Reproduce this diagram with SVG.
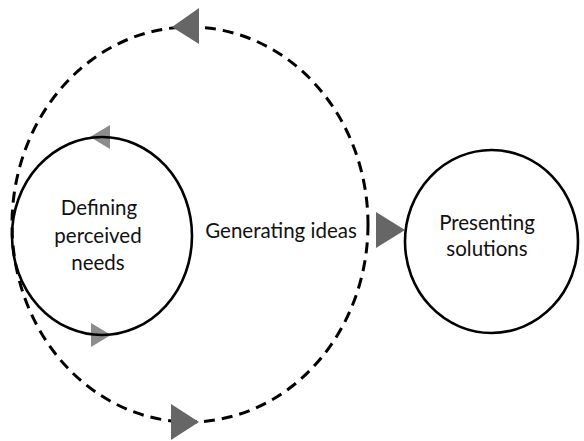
<svg xmlns="http://www.w3.org/2000/svg" width="584" height="441" viewBox="0 0 584 441">
<style>
.node{fill:none;stroke:#000;stroke-width:2.6}
.cycle{fill:none;stroke:#000;stroke-width:3;stroke-dasharray:11 7}
.lbl{font-family:"Lato","Liberation Sans",sans-serif;font-size:20.5px;fill:#111;text-anchor:middle}
.small{fill:#8c8c8c}
.big{fill:#666}
</style>
<rect width="584" height="441" fill="#fff"/>
<g id="connectors">
<ellipse class="cycle" cx="190" cy="224.5" rx="178" ry="197.5"/>
<polygon class="big" points="172,27 199,8 199,44"/>
<polygon class="big" points="199,422 171,404 171,440"/>
<polygon class="big" points="405,230 376,212 376,248"/>
<polygon class="small" points="90,137 110,125 110,149"/>
<polygon class="small" points="111,335 91,323 91,347"/>
</g>
<g id="defining">
<ellipse class="node" cx="102" cy="236" rx="90" ry="99"/>
<text class="lbl" x="99" y="215">Defining</text>
<text class="lbl" x="98" y="243">perceived</text>
<text class="lbl" x="98" y="270">needs</text>
</g>
<g id="generating">
<text class="lbl" x="281" y="238">Generating ideas</text>
</g>
<g id="presenting">
<ellipse class="node" cx="491.5" cy="241.5" rx="86.5" ry="91.5"/>
<text class="lbl" x="487" y="230">Presenting</text>
<text class="lbl" x="487" y="256">solutions</text>
</g>
</svg>
